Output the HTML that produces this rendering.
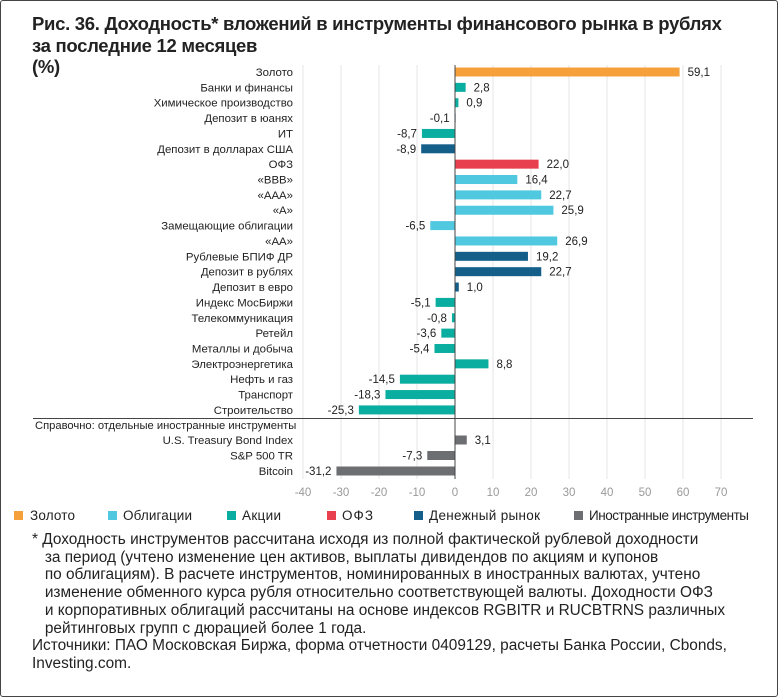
<!DOCTYPE html>
<html><head><meta charset="utf-8"><style>
body{margin:0;background:#fff;}
.w{position:relative;width:776px;height:695px;border:1px solid #444;border-radius:3px;overflow:hidden;font-family:"Liberation Sans",sans-serif;color:#222;}
.t{position:absolute;left:31px;top:12px;font-size:18.5px;font-weight:bold;line-height:21.5px;color:#222;white-space:nowrap;letter-spacing:-0.3px;}
.f{position:absolute;left:31px;top:530px;font-size:15.4px;line-height:17.7px;width:745px;color:#222;white-space:nowrap;}
svg{position:absolute;left:0;top:0}
</style></head><body><div class="w">
<div class="t">Рис. 36. Доходность* вложений в инструменты финансового рынка в рублях<br>за последние 12 месяцев<br>(%)</div>
<svg width="778" height="530" font-family="Liberation Sans, sans-serif" font-size="11.4" fill="#222">
<g stroke="#e4e4e4" stroke-width="1">
<line x1="302" y1="64" x2="302" y2="478"/><line x1="340" y1="64" x2="340" y2="478"/><line x1="378" y1="64" x2="378" y2="478"/><line x1="416" y1="64" x2="416" y2="478"/><line x1="492" y1="64" x2="492" y2="478"/><line x1="530" y1="64" x2="530" y2="478"/><line x1="568" y1="64" x2="568" y2="478"/><line x1="606" y1="64" x2="606" y2="478"/><line x1="644" y1="64" x2="644" y2="478"/><line x1="682" y1="64" x2="682" y2="478"/><line x1="720" y1="64" x2="720" y2="478"/>
</g>
<line x1="32" y1="417.5" x2="752" y2="417.5" stroke="#444"/>
<g id="bars"></g>
<line x1="454" y1="64" x2="454" y2="478" stroke="#444"/>
<g fill="#999" font-size="11.5" text-anchor="middle">
<text x="302" y="495">-40</text><text x="340" y="495">-30</text><text x="378" y="495">-20</text><text x="416" y="495">-10</text><text x="454" y="495">0</text><text x="492" y="495">10</text><text x="530" y="495">20</text><text x="568" y="495">30</text><text x="606" y="495">40</text><text x="644" y="495">50</text><text x="682" y="495">60</text><text x="720" y="495">70</text>
</g>
<text x="34" y="428" font-size="11.2">Справочно: отдельные иностранные инструменты</text>
<g font-size="13.5">
<rect x="13" y="510" width="9" height="9" fill="#f5a03a"/><text x="29" y="519" textLength="45">Золото</text>
<rect x="107" y="510" width="9" height="9" fill="#4fc8e0"/><text x="122" y="519" textLength="69">Облигации</text>
<rect x="226" y="510" width="9" height="9" fill="#0aaea0"/><text x="241" y="519" textLength="39">Акции</text>
<rect x="326" y="510" width="9" height="9" fill="#e8404f"/><text x="341" y="519" textLength="31">ОФЗ</text>
<rect x="413" y="510" width="9" height="9" fill="#135f8a"/><text x="428" y="519" textLength="111">Денежный рынок</text>
<rect x="573" y="510" width="9" height="9" fill="#6d6e72"/><text x="588" y="519" textLength="160">Иностранные инструменты</text>
</g>
</svg>
<div class="f">* Доходность инструментов рассчитана исходя из полной фактической рублевой доходности<br>&nbsp;&nbsp;&nbsp;за период (учтено изменение цен активов, выплаты дивидендов по акциям и купонов<br>&nbsp;&nbsp;&nbsp;по облигациям). В расчете инструментов, номинированных в иностранных валютах, учтено<br>&nbsp;&nbsp;&nbsp;изменение обменного курса рубля относительно соответствующей валюты. Доходности ОФЗ<br>&nbsp;&nbsp;&nbsp;и корпоративных облигаций рассчитаны на основе индексов RGBITR и RUCBTRNS различных<br>&nbsp;&nbsp;&nbsp;рейтинговых групп с дюрацией более 1 года.<br>Источники: ПАО Московская Биржа, форма отчетности 0409129, расчеты Банка России, Cbonds,<br>Investing.com.</div>
</div>
<script>
var G='#f5a03a',B='#4fc8e0',S='#0aaea0',R='#e8404f',M='#135f8a',F='#6d6e72';
var d=[["Золото",59.1,G],["Банки и финансы",2.8,S],["Химическое производство",0.9,S],["Депозит в юанях",-0.1,M],["ИТ",-8.7,S],["Депозит в долларах США",-8.9,M],["ОФЗ",22.0,R],["«BBB»",16.4,B],["«AAA»",22.7,B],["«A»",25.9,B],["Замещающие облигации",-6.5,B],["«AA»",26.9,B],["Рублевые БПИФ ДР",19.2,M],["Депозит в рублях",22.7,M],["Депозит в евро",1.0,M],["Индекс МосБиржи",-5.1,S],["Телекоммуникация",-0.8,S],["Ретейл",-3.6,S],["Металлы и добыча",-5.4,S],["Электроэнергетика",8.8,S],["Нефть и газ",-14.5,S],["Транспорт",-18.3,S],["Строительство",-25.3,S]];
var ys=[];for(var i=0;i<d.length;i++)ys.push(71+i*15.36);
d.push(["U.S. Treasury Bond Index",3.1,F]);ys.push(439);
d.push(["S&P 500 TR",-7.3,F]);ys.push(454.5);
d.push(["Bitcoin",-31.2,F]);ys.push(470);
var h='';
for(var i=0;i<d.length;i++){var v=d[i][1],y=ys[i],x0=454,x1=454+v*3.8;
var l=Math.min(x0,x1),w=Math.max(Math.abs(x1-x0),1);
h+='<rect x="'+l+'" y="'+(y-4.5)+'" width="'+w+'" height="9" fill="'+d[i][2]+'"/>';
h+='<text x="292" y="'+(y+4)+'" text-anchor="end">'+d[i][0].replace('&','&amp;')+'</text>';
var s=v.toFixed(1).replace('.',',');
if(v>=0)h+='<text x="'+(x1+8)+'" y="'+(y+4)+'" font-size="11.5">'+s+'</text>';
else h+='<text x="'+(x1-5)+'" y="'+(y+4)+'" font-size="11.5" text-anchor="end">'+s+'</text>';}
document.getElementById('bars').innerHTML=h;
</script>
</body></html>
